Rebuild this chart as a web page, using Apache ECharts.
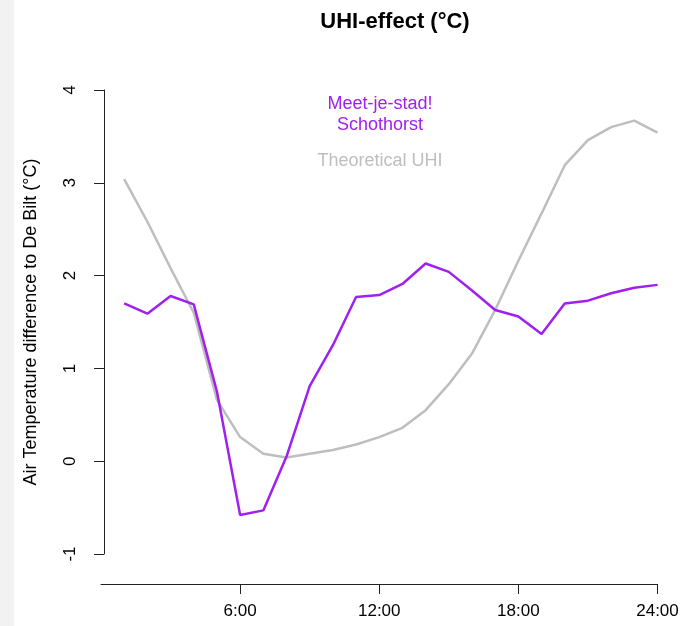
<!DOCTYPE html>
<html>
<head>
<meta charset="utf-8">
<script src="https://cdn.jsdelivr.net/npm/echarts@6/dist/echarts.min.js"></script>
<style>
  html, body { margin: 0; padding: 0; background: #ffffff; }
  #chart { width: 696px; height: 626px; }
</style>
</head>
<body>
<div id="chart"></div>
<script>
// Hour of day (1..24)
const hours = [1,2,3,4,5,6,7,8,9,10,11,12,13,14,15,16,17,18,19,20,21,22,23,24];
// Measured UHI at Schothorst (Meet-je-stad!), °C difference to De Bilt
const measured = [1.70,1.59,1.78,1.69,0.75,-0.58,-0.53,0.05,0.81,1.25,1.77,1.79,1.91,2.13,2.04,1.84,1.63,1.56,1.37,1.70,1.73,1.81,1.87,1.90];
// Theoretical UHI curve, °C
const theoretical = [3.04,2.58,2.08,1.60,0.66,0.26,0.08,0.04,0.08,0.12,0.18,0.26,0.36,0.55,0.83,1.16,1.63,2.16,2.67,3.19,3.46,3.60,3.67,3.54];
// Axis tick labels
const xTicks = [6, 12, 18, 24];
const xTickLabels = ['6:00', '12:00', '18:00', '24:00'];
const yTicks = [-1, 0, 1, 2, 3, 4];

const pair = (arr) => hours.map((h, i) => [h, arr[i]]);
const font = 'Liberation Sans, Arial, sans-serif';
const purple = '#a020f0';
const grey = '#bebebe';

const chart = echarts.init(document.getElementById('chart'), null, { renderer: 'canvas' });
chart.setOption({
  backgroundColor: '#ffffff',
  animation: false,
  title: {
    text: 'UHI-effect (°C)',
    left: 390, top: 6, textAlign: 'center',
    textStyle: { fontFamily: font, fontSize: 22, fontWeight: 'bold', color: '#000' }
  },
  grid: { left: 101, right: 38.5, top: 90, bottom: 72, outerBoundsMode: 'none', containLabel: false },
  xAxis: {
    type: 'value', min: 0, max: 24, offset: 30, position: 'bottom',
    axisLine: { show: true, onZero: false, lineStyle: { color: '#222', width: 1 } },
    axisTick: { show: true, length: 10, lineStyle: { color: '#222' }, customValues: xTicks },
    axisLabel: {
      margin: 19, fontFamily: font, fontSize: 17, color: '#000',
      customValues: xTicks,
      formatter: (v) => xTickLabels[xTicks.indexOf(v)] || ''
    },
    splitLine: { show: false }
  },
  yAxis: {
    type: 'value', min: yTicks[0], max: yTicks[yTicks.length - 1], interval: 1, offset: -3,
    name: 'Air Temperature difference to De Bilt (°C)',
    nameLocation: 'middle', nameRotate: 90, nameGap: 64,
    nameTextStyle: { fontFamily: font, fontSize: 18, color: '#000' },
    axisLine: { show: true, onZero: false, lineStyle: { color: '#222', width: 1 } },
    axisTick: { show: true, length: 10, lineStyle: { color: '#222' } },
    axisLabel: { rotate: 90, margin: 25, fontFamily: font, fontSize: 17, color: '#000' },
    splitLine: { show: false }
  },
  graphic: [
    { type: 'rect', left: 0, top: 0, shape: { width: 14, height: 626 }, style: { fill: '#f2f2f2' }, z: -1 },
    { type: 'text', x: 380, y: 104, style: { text: 'Meet-je-stad!', fill: purple, font: '18px ' + font, textAlign: 'center', textVerticalAlign: 'middle' } },
    { type: 'text', x: 380, y: 125, style: { text: 'Schothorst', fill: purple, font: '18px ' + font, textAlign: 'center', textVerticalAlign: 'middle' } },
    { type: 'text', x: 380, y: 161, style: { text: 'Theoretical UHI', fill: grey, font: '18px ' + font, textAlign: 'center', textVerticalAlign: 'middle' } }
  ],
  series: [
    {
      name: 'Theoretical UHI', type: 'line', data: pair(theoretical),
      showSymbol: false, lineStyle: { color: grey, width: 2.5 }, z: 2
    },
    {
      name: 'Meet-je-stad! Schothorst', type: 'line', data: pair(measured),
      showSymbol: false, lineStyle: { color: purple, width: 2.5 }, z: 3
    }
  ]
});
</script>
</body>
</html>
